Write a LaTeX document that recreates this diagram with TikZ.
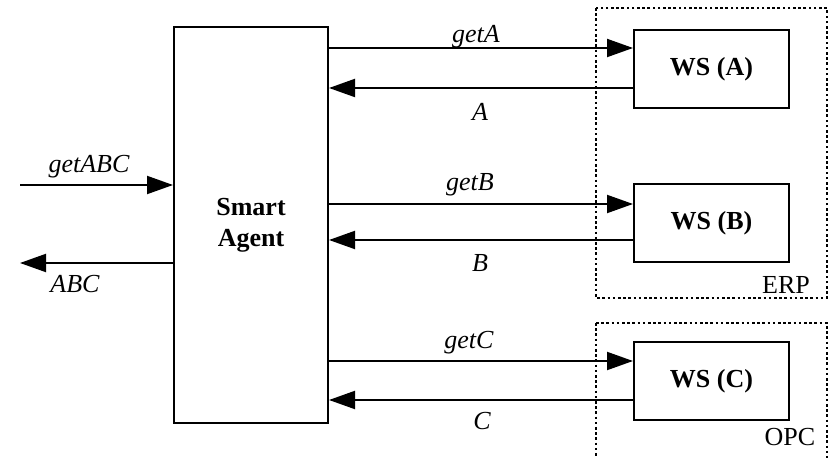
\documentclass[tikz,border=0pt]{standalone}
\usepackage{fontspec}
\setmainfont{Liberation Serif}
\usetikzlibrary{arrows.meta}
\begin{document}
\begin{tikzpicture}[x=0.5pt,y=-0.5pt,
  box/.style={draw,line width=1pt,inner sep=0pt,font=\fontsize{13}{15.5}\selectfont\bfseries},
  grp/.style={draw,line width=1pt,dash pattern=on 1.3pt off 1.3pt},
  arr/.style={line width=1pt,-{Triangle[length=13pt,width=9pt]}},
  lbl/.style={font=\fontsize{13}{15.5}\selectfont\itshape,inner sep=0pt},
  grplbl/.style={font=\fontsize{13}{15.5}\selectfont,inner sep=0pt}]
\useasboundingbox (0,0) rectangle (829,458);
% groups
\draw[grp] (596,8) rectangle (827,298);
\draw[grp] (596,323) -- (827,323) -- (827,470);
\draw[grp] (596,323) -- (596,470);
\node[grplbl] (erp) at (786,285) {ERP};
\node[grplbl] (opc) at (790,437) {OPC};
% boxes
\node[box,minimum width=77pt,minimum height=198pt,align=center] (agent) at (251,225) {Smart\\Agent};
\node[box,minimum width=77.5pt,minimum height=39pt] (wsA) at (711.5,69) {WS (A)};
\node[box,minimum width=77.5pt,minimum height=39pt] (wsB) at (711.5,223) {WS (B)};
\node[box,minimum width=77.5pt,minimum height=39pt] (wsC) at (711.5,381) {WS (C)};
% helper coordinates
\coordinate (yA1) at (0,48);
\coordinate (yA2) at (0,88);
\coordinate (yB1) at (0,204);
\coordinate (yB2) at (0,240);
\coordinate (yC1) at (0,361);
\coordinate (yC2) at (0,400);
\coordinate (inL) at (20,185);
\coordinate (outL) at (20,263);
% arrows
\draw[arr] (agent.east |- yA1) -- (wsA.west |- yA1);
\draw[arr] (wsA.west |- yA2) -- (agent.east |- yA2);
\draw[arr] (agent.east |- yB1) -- (wsB.west |- yB1);
\draw[arr] (wsB.west |- yB2) -- (agent.east |- yB2);
\draw[arr] (agent.east |- yC1) -- (wsC.west |- yC1);
\draw[arr] (wsC.west |- yC2) -- (agent.east |- yC2);
\draw[arr] (inL) -- (agent.west |- inL);
\draw[arr] (agent.west |- outL) -- (outL);
% labels
\node[lbl] (lgetA) at (476,37) {getA};
\node[lbl] (lA) at (480,112) {A};
\node[lbl] (lgetB) at (470,185) {getB};
\node[lbl] (lB) at (480,263) {B};
\node[lbl] (lgetC) at (469,343) {getC};
\node[lbl] (lC) at (482,421) {C};
\node[lbl] (lgetABC) at (89,167) {getABC};
\node[lbl] (lABC) at (75,284) {ABC};
\end{tikzpicture}
\end{document}
